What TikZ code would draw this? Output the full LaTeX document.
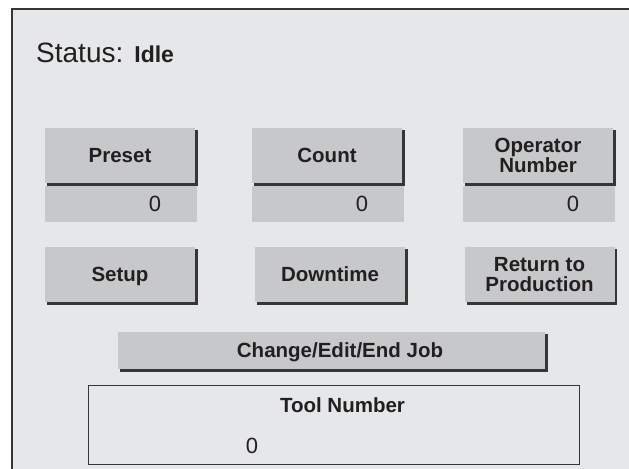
\documentclass[tikz,border=0pt]{standalone}
\usepackage{fontspec}
\setmainfont{Liberation Sans}
\usepackage{tikz}
\usetikzlibrary{positioning, backgrounds}
\definecolor{panelbg}{HTML}{E6E7E9}
\definecolor{btnfill}{HTML}{C7C8CA}
\definecolor{darkline}{HTML}{363636}
\definecolor{ink}{HTML}{231F20}

\begin{document}
\begin{tikzpicture}[
    % 1. One unit is one pixel of the screen, y runs down
    x=1bp, y=-1bp,
    node distance=3bp,
    % 2. Styles for the panel parts
    button/.style={rectangle, fill=btnfill, minimum width=150bp, minimum height=55bp,
        inner sep=0pt, align=center, text=ink,
        font=\fontsize{20.5bp}{19.5bp}\selectfont\bfseries},
    valbox/.style={rectangle, fill=btnfill, minimum width=152bp, minimum height=36bp,
        inner sep=0pt, text width=152bp, align=right, text=ink,
        font=\fontsize{22bp}{24bp}\selectfont},
    field/.style={rectangle, draw=darkline, line width=1bp, inner sep=0pt}
]
    \useasboundingbox (0,0) rectangle (629,469);

    \node (status) [anchor=base west, text=ink, inner sep=0pt] at (36,62.5)
        {{\fontsize{28bp}{30bp}\selectfont Status:}\hspace{11bp}{\fontsize{23bp}{25bp}\selectfont\bfseries Idle}};

    % --- ROW 1 ---
    \node (preset) [button] at (120,155.5) {Preset};
    \node (count) [button] at (327,155.5) {Count};
    \node (opnum) [button] at (538,155.5) {Operator\\Number};

    % value fields sit right under their buttons
    \node (presetval) [valbox, below=of preset, xshift=1bp] {0\hspace*{36bp}};
    \node (countval) [valbox, below=of count, xshift=1bp] {0\hspace*{36bp}};
    \node (opnumval) [valbox, below=of opnum, xshift=1bp] {0\hspace*{36bp}};

    % --- ROW 2 ---
    \node (setup) [button, text depth=0pt] at (120,274.5) {Setup};
    \node (downtime) [button] at (330,274.5) {Downtime};
    \node (retprod) [button] at (539.5,274.5) {Return to\\Production};

    % --- JOB BUTTON ---
    \node (job) [button, minimum width=427bp, minimum height=37bp, text depth=0pt]
        at (331.5,350.5) {\hspace*{17bp}Change/Edit/End Job};

    % --- TOOL NUMBER FIELD ---
    \node (toolbox) [field, minimum width=490bp, minimum height=79bp] at (334,424.5) {};
    \node (toollabel) [text=ink, inner sep=0pt, font=\fontsize{20.5bp}{22bp}\selectfont\bfseries]
        at (342.5,405) {Tool Number};
    \node (toolval) [text=ink, inner sep=0pt, font=\fontsize{22bp}{24bp}\selectfont]
        at (252,446) {0};

    % --- PANEL AND BUTTON SHADOWS ---
    \begin{scope}[on background layer]
        \fill[white] (0,0) rectangle (629,469);
        \fill[panelbg] (12,9) rectangle (629,469);
        \draw[darkline, line width=2bp] (12,469) -- (12,9) -- (629,9);
        \foreach \b in {preset, count, opnum, setup, downtime, retprod, job}
            \fill[darkline] ([shift={(2.5,2.5)}]\b.north west) rectangle ([shift={(2.5,2.5)}]\b.south east);
    \end{scope}

\end{tikzpicture}
\end{document}
